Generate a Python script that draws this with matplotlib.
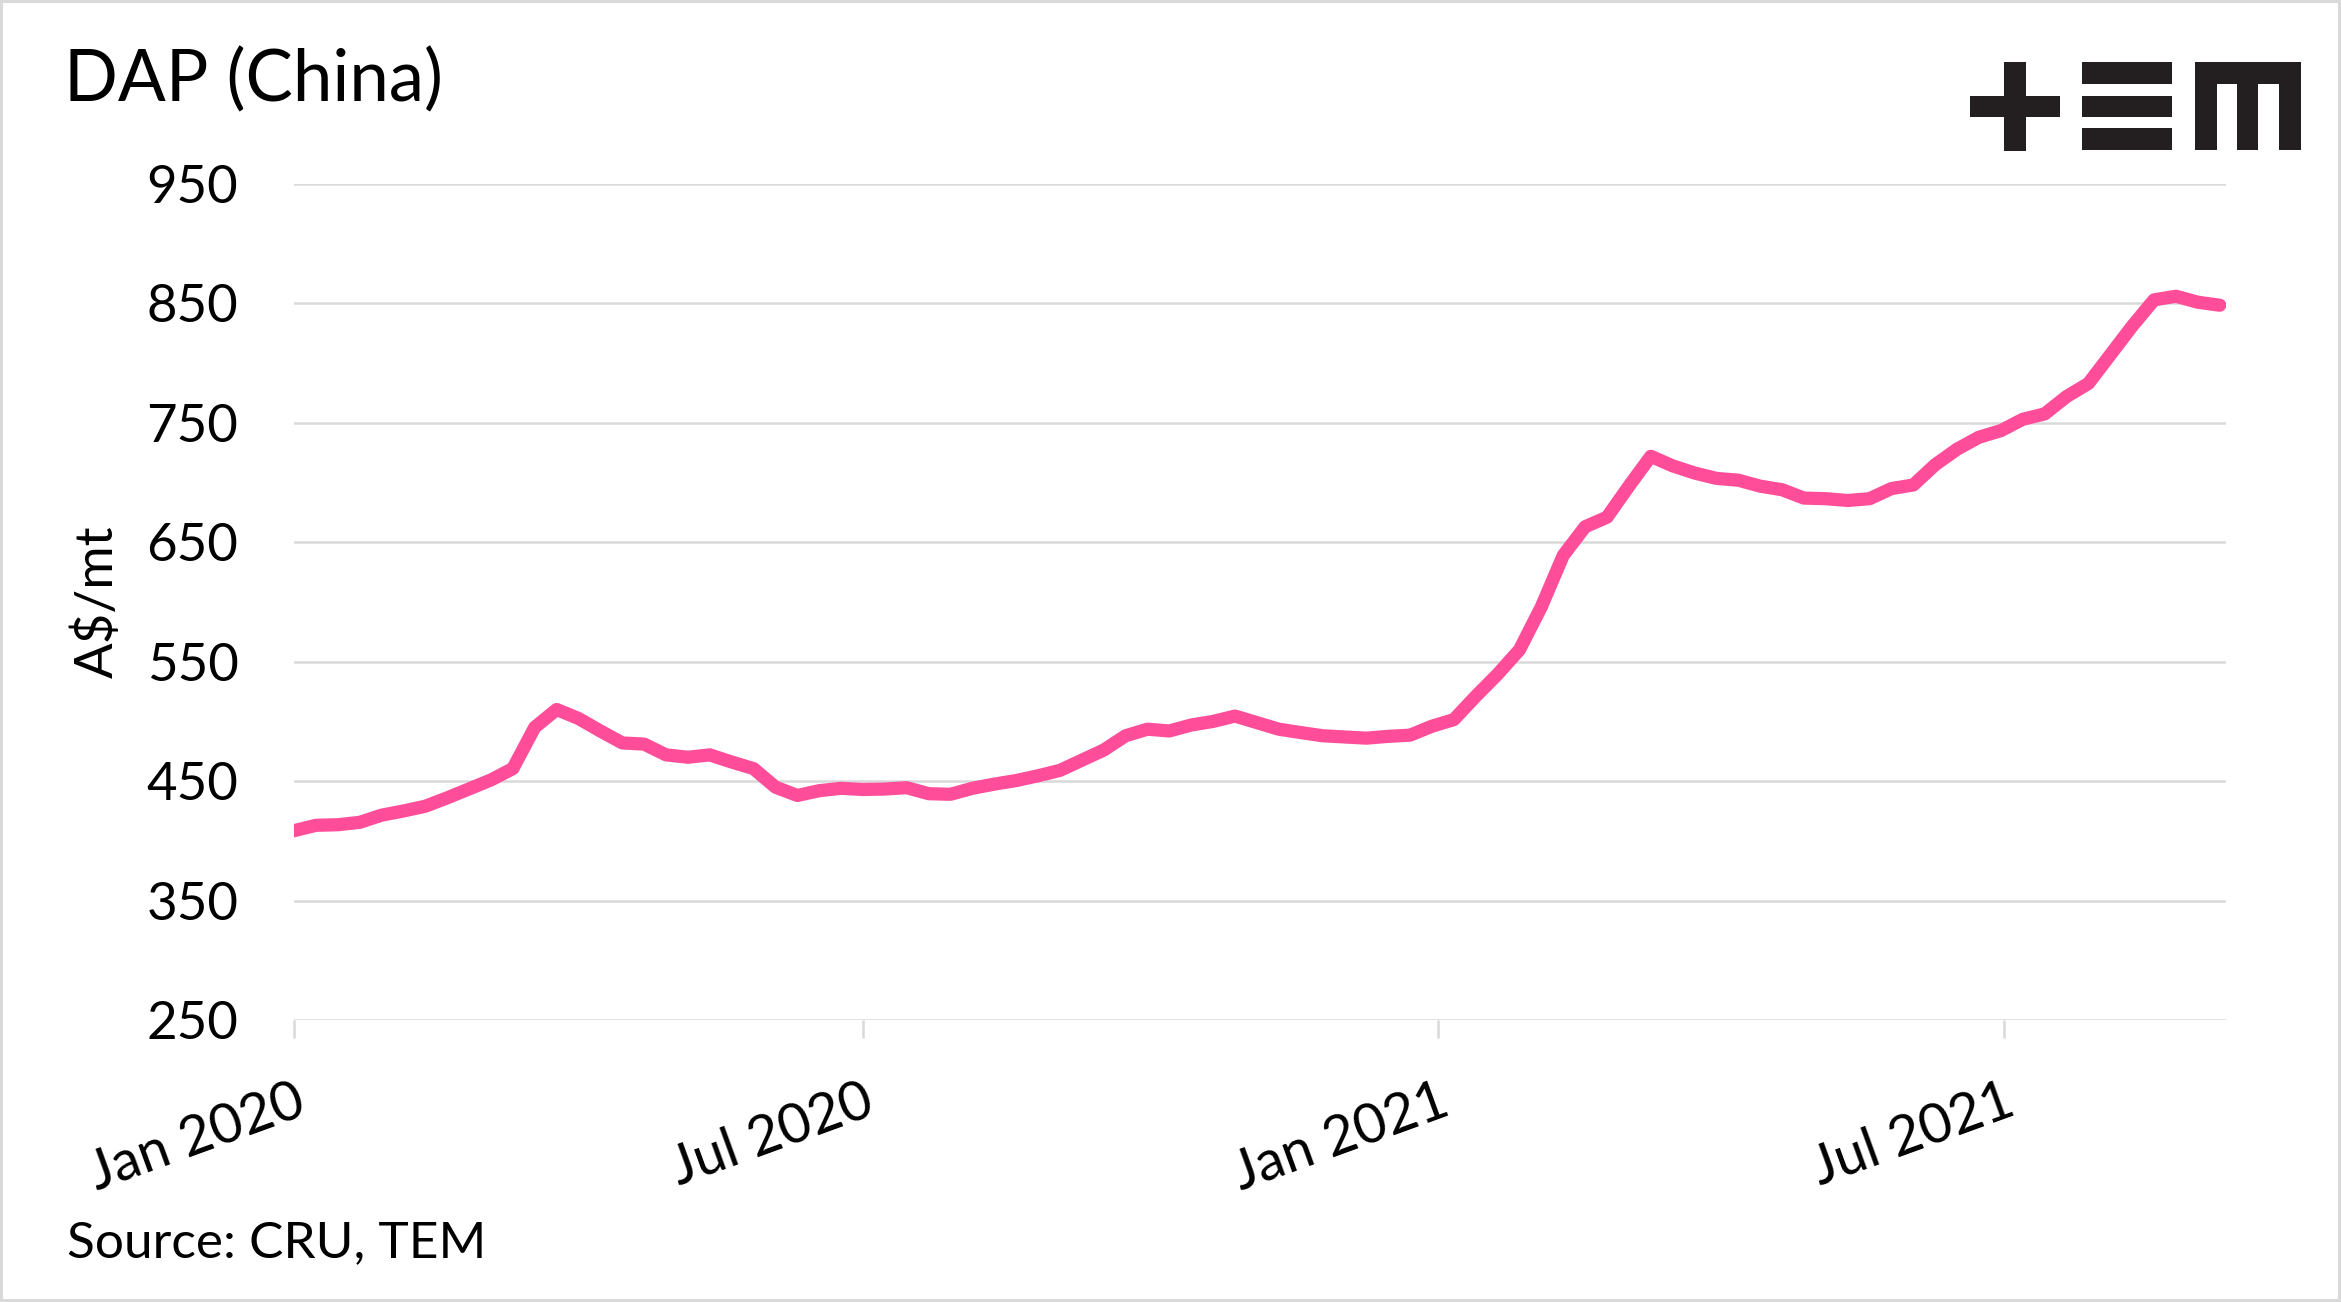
import numpy as np
import pandas as pd
import matplotlib
matplotlib.use("Agg")
import matplotlib.pyplot as plt
import matplotlib.dates as mdates
from matplotlib.patches import Rectangle

plt.rcParams['font.family'] = ['Lato', 'DejaVu Sans']

# weekly DAP price, A$/mt
dates = pd.date_range("2020-01-01", periods=89, freq="7D")
prices = [408.5, 413, 413.5, 415.5, 421.5, 425, 429, 436, 443.5, 451,
          460.5, 495, 510, 502.5, 492, 482, 481, 472, 470, 472,
          466, 460.5, 445, 438, 442, 444, 443, 443.4, 444.5, 439.5,
          439, 444, 447.5, 450.5, 454.5, 459, 467.5, 476, 488, 493.5,
          492, 497, 500, 504.5, 499, 493.5, 490.7, 488, 487, 486,
          487.5, 488.5, 496, 501.5, 521, 539.5, 560, 596, 639, 663,
          671, 697, 722, 714, 708, 703.5, 702, 697, 694, 687,
          686.5, 685, 686.5, 695, 698, 715, 728, 738, 743.5, 753,
          757.5, 772, 783, 807, 831, 853, 856, 851, 848.5]
yticks = [250, 350, 450, 550, 650, 750, 850, 950]

W, H = 2341, 1302
fig = plt.figure(figsize=(W/100, H/100), dpi=100)
ax = fig.add_axes([294/W, 1-1020/H, (2226-294)/W, (1020-184)/H])

ax.plot(dates, prices, color='#ff4d9a', lw=9.5, solid_capstyle='round',
        solid_joinstyle='round', zorder=3)

ax.set_ylim(250, 950)
ax.set_yticks(yticks)
ax.set_xlim(pd.Timestamp("2020-01-01"), pd.Timestamp("2021-09-10"))
ax.xaxis.set_major_locator(mdates.MonthLocator(bymonth=[1, 7]))
ax.xaxis.set_major_formatter(mdates.DateFormatter("%b %Y"))
ax.grid(axis='y', color='#d9d9d9', lw=1.8)
ax.set_axisbelow(True)
for s in ax.spines.values():
    s.set_visible(False)
ax.tick_params(axis='y', length=0, pad=40, labelsize=38)
ax.tick_params(axis='x', length=13, width=1.8, color='#d9d9d9', pad=27, labelsize=40)
for lab in ax.get_xticklabels():
    lab.set_rotation(20)
    lab.set_ha('right')
    lab.set_va('top')
    lab.set_rotation_mode('anchor')

ax.set_ylabel("A$/mt", fontsize=38)
ax.yaxis.set_label_coords(-0.089, 0.5)

fig.text(64/W, 1-101/H, "DAP (China)", fontsize=51, va='baseline', ha='left')
fig.text(67/W, 1-1257/H, "Source: CRU, TEM", fontsize=37, va='baseline', ha='left')

# +EM logo, pixel boxes (x0, y0 from top, x1, y1)
logo = [(1970, 95.7, 2060, 117.3), (2004, 62.3, 2026, 150.7),
        (2082.3, 62.3, 2172.3, 84.3), (2082.3, 95.7, 2172.3, 117.3), (2082.3, 127.7, 2172.3, 150),
        (2195, 62.3, 2301, 84.3), (2195, 62.3, 2216.7, 150), (2236.7, 62.3, 2257.7, 150),
        (2279, 62.3, 2301, 150)]
for x0, y0, x1, y1 in logo:
    fig.add_artist(Rectangle((x0/W, 1-y1/H), (x1-x0)/W, (y1-y0)/H,
                             transform=fig.transFigure, color='#231f20', lw=0))

fig.add_artist(Rectangle((0, 0), 1, 1, transform=fig.transFigure, fill=False,
                         edgecolor='#d9d9d9', lw=4.3))

fig.savefig("out.png", dpi=100, facecolor='white')
